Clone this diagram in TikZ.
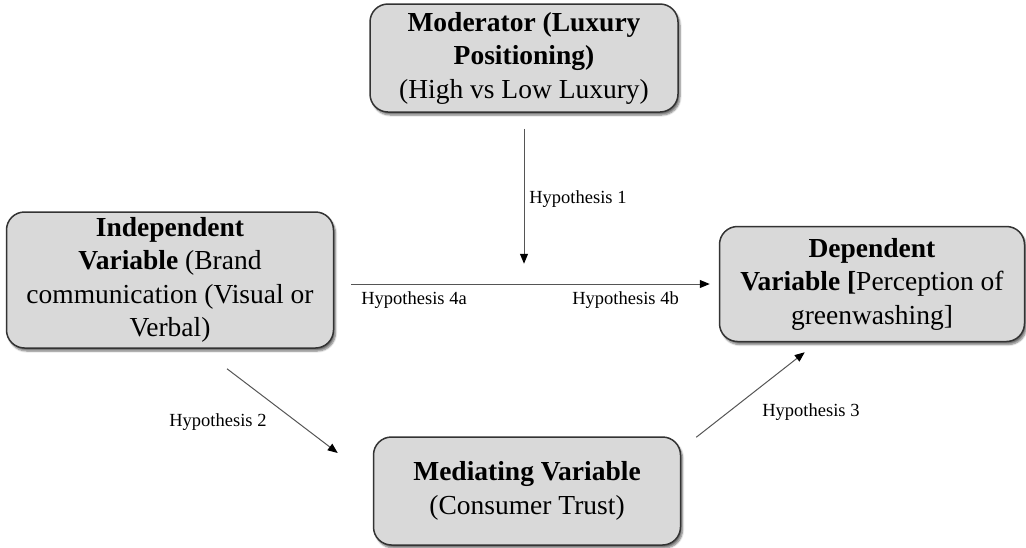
\documentclass[tikz,border=0pt]{standalone}
\usepackage{fontspec}
\setmainfont{Liberation Serif}
\usepackage{tikz}
\usetikzlibrary{arrows.meta}
\usetikzlibrary{shadows.blur}
\tikzset{every picture/.style={line width=0.75pt}}
\definecolor{boxgray}{HTML}{D9D9D9}
\definecolor{edgegray}{HTML}{333333}
\definecolor{arrowgray}{HTML}{555555}
\tikzset{
  varbox/.style={draw=edgegray, line width=1.5pt, fill=boxgray, rounded corners=18pt,
    align=center, inner sep=0pt, font=\fontsize{27.5}{33.5}\selectfont,
    blur shadow={shadow xshift=2pt, shadow yshift=-3pt, shadow blur steps=6, shadow opacity=55}},
  hyparrow/.style={draw=arrowgray, line width=1pt, -{Triangle[length=10pt,width=8pt,color=black]}},
  hyplabel/.style={anchor=west, inner sep=0pt, font=\fontsize{18.5}{22}\selectfont}
}

\begin{document}
\begin{tikzpicture}[x=1pt,y=-1pt]
\useasboundingbox (0,0) rectangle (1026,547);
\node[varbox, minimum width=308pt, minimum height=108pt] (mod) at (524,58)
  {\textbf{Moderator (Luxury}\\ \textbf{Positioning)}\\ (High vs Low Luxury)};
\node[varbox, minimum width=327pt, minimum height=136pt] (ind) at (170,280)
  {\textbf{Independent}\\ \textbf{Variable} (Brand\\ communication (Visual or\\ Verbal)};
\node[varbox, minimum width=305pt, minimum height=115pt] (dep) at (872,284)
  {\textbf{Dependent}\\ \textbf{Variable [}Perception of\\ greenwashing]};
\node[varbox, minimum width=307pt, minimum height=108pt] (med) at (527,491)
  {\textbf{Mediating Variable}\\ (Consumer Trust)};
%
\coordinate (h2a) at ([shift={(57,20)}]ind.south);
\coordinate (h2b) at ([shift={(-35,-38)}]med.west);
\coordinate (h3a) at ([shift={(15,1)}]med.north east);
\coordinate (h3b) at ([shift={(86,10)}]dep.south west);
%
\draw[hyparrow, shorten <=16pt] (mod.south) -- ++(0,151);
\draw[hyparrow, shorten <=17pt, shorten >=9pt] (ind.east |- dep.west) -- (dep.west);
\draw[hyparrow] (h2a) -- (h2b);
\draw[hyparrow] (h3a) -- (h3b);
%
\node[hyplabel] (hyp1) at (529,199) {Hypothesis 1};
\node[hyplabel] (hyp4a) at (361,300) {Hypothesis 4a};
\node[hyplabel] (hyp4b) at (572,300) {Hypothesis 4b};
\node[hyplabel] (hyp2) at (169,422) {Hypothesis 2};
\node[hyplabel] (hyp3) at (762,412) {Hypothesis 3};
\end{tikzpicture}
\end{document}
